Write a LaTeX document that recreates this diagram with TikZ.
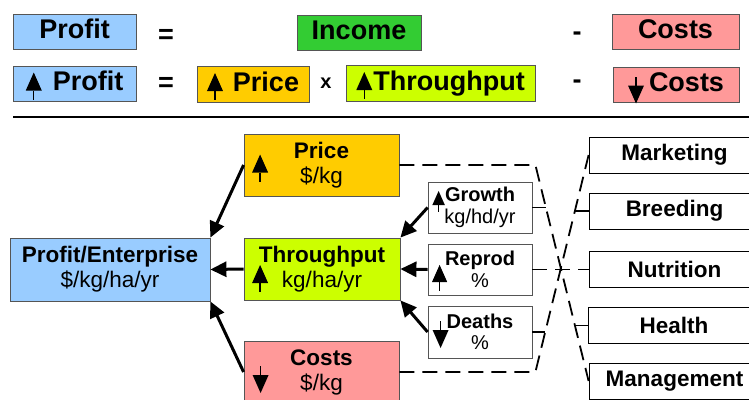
\documentclass[tikz,border=0pt]{standalone}
\usepackage{fontspec}
\setmainfont{Liberation Sans}
\usetikzlibrary{arrows.meta,calc}
\definecolor{profblue}{HTML}{99CCFF}
\definecolor{incgreen}{HTML}{33CC33}
\definecolor{costpink}{HTML}{FF9999}
\definecolor{priceorange}{HTML}{FFCC00}
\definecolor{thrulime}{HTML}{CCFF00}
\definecolor{edgegray}{HTML}{555555}

% small up / down arrow glyphs (origin = base of the head, y points down)
\newcommand{\upglyph}{%
  \fill[black] (-8,0) -- (8,0) -- (0,-18) -- cycle;
  \draw[black,line width=1.4pt] (0,0) -- (0,9);}
\newcommand{\dnglyph}{%
  \fill[black] (-8,0) -- (8,0) -- (0,18) -- cycle;
  \draw[black,line width=1.4pt] (0,0) -- (0,-9);}
\newcommand{\upa}{\tikz[x=1pt,y=-1pt,baseline=0pt]{\upglyph}}
\newcommand{\dna}{\tikz[x=1pt,y=-1pt,baseline=-6pt]{\dnglyph}}

\begin{document}
\begin{tikzpicture}[
    x=1pt, y=-1pt,
    eqbox/.style={draw=edgegray, line width=0.8pt, inner sep=0pt,
                  minimum height=35pt, text height=20pt, text depth=6pt,
                  font=\fontsize{27}{30}\selectfont\bfseries},
    sign/.style={inner sep=0pt, font=\fontsize{27}{30}\selectfont\bfseries},
    lever/.style={draw=edgegray, line width=0.8pt, minimum width=156pt,
                  minimum height=62pt, inner sep=0pt, align=center,
                  font=\fontsize{22.5}{25}\selectfont},
    driver/.style={draw=edgegray, line width=0.8pt, minimum width=104pt,
                   minimum height=51pt, inner sep=0pt, align=center,
                   font=\fontsize{20}{21.5}\selectfont},
    area/.style={draw=black, line width=0.8pt, fill=white, minimum width=171pt,
                 minimum height=36pt, inner sep=0pt,
                 font=\fontsize{22.5}{25}\selectfont\bfseries},
    flow/.style={-{Triangle[length=16pt,width=15pt]}, line width=3pt},
    link/.style={line width=1.8pt, dash pattern=on 15pt off 8pt},
    uparw/.pic={\upglyph},
    dnarw/.pic={\dnglyph},
]
\useasboundingbox (0,0) rectangle (749,399);

% =====================================================================
% equations
% =====================================================================
\node[eqbox, fill=profblue, minimum width=123pt] (prof1) at (74.5,31.5) {Profit};
\node[sign] (eq1) at (166,36) {=};
\node[eqbox, fill=incgreen, minimum width=124pt] (inc1) at (359,32.5) {Income};
\node[sign] (mi1) at (577,36) {-};
\node[eqbox, fill=costpink, minimum width=127pt] (cost1) at (675.5,31.5) {Costs};

\node[eqbox, fill=profblue, minimum width=123pt] (prof2) at (74.5,83.5)
    {\upa\hspace{11pt}Profit};
\node[sign] (eq2) at (166,84) {=};
\node[eqbox, fill=priceorange, minimum width=112pt, minimum height=36pt] (price2)
    at (253,84) {\upa\hspace{10pt}Price};
\node[sign, font=\fontsize{20}{24}\selectfont\bfseries] (times) at (326,83) {x};
\node[eqbox, fill=thrulime, minimum width=189pt, minimum height=36pt] (thru2)
    at (440.5,83) {\upa\hspace{1pt}Throughput};
\node[sign] (mi2) at (577,84) {-};
\node[eqbox, fill=costpink, minimum width=126pt] (cost2) at (676,84.5)
    {\dna\hspace{5pt}Costs};

% divider
\draw[line width=2.2pt] (13,117) -- (749,117);

% =====================================================================
% profit tree
% =====================================================================
\node[lever, fill=profblue, minimum width=200pt, minimum height=63pt] (pe)
    at (110,269.5) {\textbf{Profit/Enterprise}\\\$/kg/ha/yr};
\node[lever, fill=priceorange, minimum width=155pt] (pr) at (321.5,165)
    {\textbf{Price}\\\$/kg};
\node[lever, fill=thrulime] (th) at (322,269) {\textbf{Throughput}\\kg/ha/yr};
\node[lever, fill=costpink, minimum width=155pt] (co) at (321.5,372)
    {\textbf{Costs}\\\$/kg};

\pic at ($(pr.west)+(16.5,7.5)$) {uparw};
\pic at ($(th.west)+(16.5,14)$) {uparw};
\pic at ($(co.west)+(17,3)$) {dnarw};

% throughput drivers
\node[driver] (gr) at (480,207.5) {\textbf{Growth}\\kg/hd/yr};
\node[driver] (rp) at (480,269.5) {\textbf{Reprod}\\\%};
\node[driver, minimum height=52pt] (de) at (480,332) {\textbf{Deaths}\\\%};

\pic[scale=0.78] at ($(gr.west)+(11,-2.5)$) {uparw};
\pic[scale=0.95] at ($(rp.west)+(12,12.5)$) {uparw};
\pic at ($(de.west)+(13,-2)$) {dnarw};

% management areas
\node[area] (mk) at (674.5,155) {Marketing};
\node[area] (br) at (674.5,211) {Breeding};
\node[area] (nu) at (674.5,269.5) {Nutrition};
\node[area] (he) at (674,325.5) {Health};
\node[area] (mg) at (674.5,381) {Management};

% arrows into profit and throughput
\draw[flow] (pr.west) -- (pe.north east);
\draw[flow] (th.west) -- (pe.east);
\draw[flow] (co.west) -- (pe.south east);
\draw[flow] (gr.west) -- (th.north east);
\draw[flow] (rp.west) -- (th.east);
\draw[flow] (de.west) -- (th.south east);

% dashed links to the management areas
\draw[link] (pr.east) -- ++(136,0) coordinate (pc) -- (mg.west);
\draw[link] (co.east) -- ++(136,0) coordinate (cc) -- (mk.west);
\coordinate (gx) at ($(pc)!0.197!(mg.west)$);
\coordinate (hx) at ($(pc)!0.743!(mg.west)$);
\coordinate (bx) at ($(cc)!0.742!(mk.west)$);
\coordinate (dx) at ($(cc)!0.184!(mk.west)$);
\draw[link] (gr.east) -- (gr.east -| gx);
\draw[link] (he.west) -- (he.west -| hx);
\draw[link] (br.west) -- (br.west -| bx);
\draw[link] (de.east) -- (de.east -| dx);
\draw[link] (rp.east) -- (nu.west);

\end{tikzpicture}
\end{document}
